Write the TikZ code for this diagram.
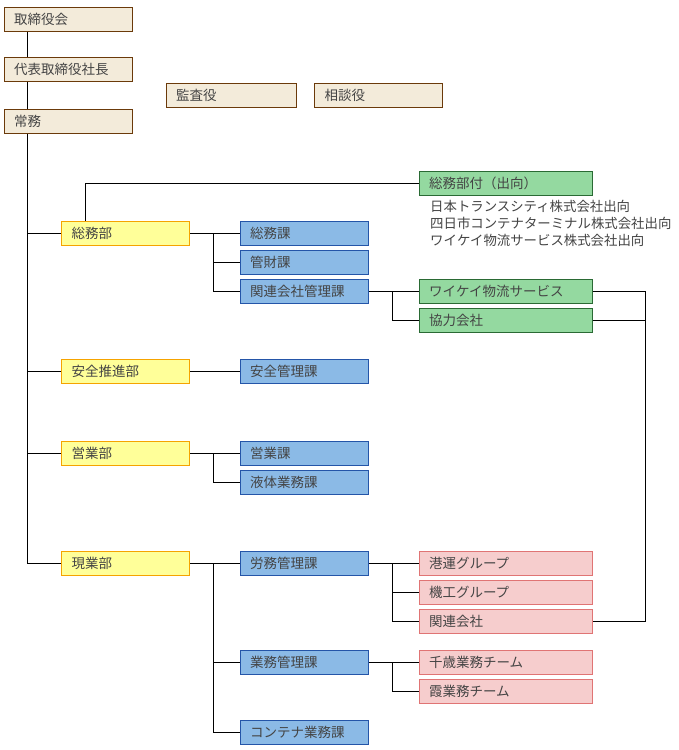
\documentclass[tikz,border=0pt]{standalone}
\usepackage{fontspec}
\setmainfont{Noto Sans CJK JP}
\definecolor{txt}{HTML}{444444}
\definecolor{bgfill}{HTML}{F3EBDA}
\definecolor{bgline}{HTML}{6B3A0A}
\definecolor{yfill}{HTML}{FFFF99}
\definecolor{yline}{HTML}{F5A300}
\definecolor{bfill}{HTML}{8BBAE6}
\definecolor{bline}{HTML}{2455A8}
\definecolor{gfill}{HTML}{94D9A0}
\definecolor{gline}{HTML}{2A6A34}
\definecolor{pfill}{HTML}{F6CDCD}
\definecolor{pline}{HTML}{E07474}
\tikzset{
  box/.style={rectangle, draw, line width=1pt, minimum height=24pt, inner ysep=0pt, inner xsep=10pt,
    align=left, text=txt, font=\fontsize{13.5}{15}\selectfont},
  narrow/.style={box, text width=108pt},
  wide/.style={box, text width=153pt},
  beige/.style={narrow, fill=bgfill, draw=bgline},
  yel/.style={narrow, fill=yfill, draw=yline},
  blu/.style={narrow, fill=bfill, draw=bline},
  grn/.style={wide, fill=gfill, draw=gline},
  pnk/.style={wide, fill=pfill, draw=pline},
  conn/.style={draw=black, line width=1pt}
}
\begin{document}
\begin{tikzpicture}[x=1pt,y=-1pt]
\fill[white] (0,0) rectangle (678,750);
\useasboundingbox (0,0) rectangle (678,750);
\coordinate (spine) at (27,0);
\coordinate (bA) at (213,0);
\coordinate (bB) at (392,0);
\coordinate (rc) at (645,0);
% top
\node[beige] (tori) at (68,19) {取締役会};
\node[beige] (daihyo) at (68,69) {代表取締役社長};
\node[beige] (jomu) at (68,121) {常務};
\node[beige, text width=110pt] (kansa) at (231,95) {監査役};
\node[beige] (sodan) at (378.5,95) {相談役};
% departments
\node[yel] (soumubu) at (125.5,233) {総務部};
\node[yel] (anzenbu) at (125.5,371) {安全推進部};
\node[yel] (eigyobu) at (125.5,453) {営業部};
\node[yel] (genbu) at (125.5,563) {現業部};
% sections
\node[blu] (soumuka) at (304,233) {総務課};
\node[blu] (kanzai) at (304,262) {管財課};
\node[blu] (kanrenka) at (304,291) {関連会社管理課};
\node[blu] (anzenka) at (304,371) {安全管理課};
\node[blu] (eigyoka) at (304,453) {営業課};
\node[blu] (ekitai) at (304,482) {液体業務課};
\node[blu] (romu) at (304,563) {労務管理課};
\node[blu] (gyomu) at (304,662) {業務管理課};
\node[blu] (container) at (304,732) {コンテナ業務課};
% green
\node[grn] (shukko) at (505.5,183) {総務部付（出向）};
\node[anchor=north west, inner sep=0pt, align=left, text=txt, font=\fontsize{13.4}{16.6}\selectfont] (shukkolist) at (430,200.5)
  {日本トランスシティ株式会社出向\\四日市コンテナターミナル株式会社出向\\ワイケイ物流サービス株式会社出向};
\node[grn] (yk) at (505.5,291) {ワイケイ物流サービス};
\node[grn] (kyoryoku) at (505.5,320) {協力会社};
% pink
\node[pnk] (koun) at (505.5,563) {港運グループ};
\node[pnk] (kiko) at (505.5,592) {機工グループ};
\node[pnk] (kanrengaisha) at (505.5,621) {関連会社};
\node[pnk] (chitose) at (505.5,662) {千歳業務チーム};
\node[pnk] (kasumi) at (505.5,691) {霞業務チーム};
% connectors: spine
\draw[conn] (tori.south -| spine) -- (daihyo.north -| spine);
\draw[conn] (daihyo.south -| spine) -- (jomu.north -| spine);
\draw[conn] (jomu.south -| spine) |- (genbu.west);
\draw[conn] (spine |- soumubu.west) -- (soumubu.west);
\draw[conn] (spine |- anzenbu.west) -- (anzenbu.west);
\draw[conn] (spine |- eigyobu.west) -- (eigyobu.west);
% 総務部
\draw[conn] ([xshift=24pt]soumubu.north west) |- (shukko.west);
\draw[conn] (soumubu.east) -- (soumuka.west);
\draw[conn] (bA |- soumuka.west) |- (kanzai.west);
\draw[conn] (bA |- soumuka.west) |- (kanrenka.west);
\draw[conn] (kanrenka.east) -- (yk.west);
\draw[conn] (bB |- yk.west) |- (kyoryoku.west);
\draw[conn] (yk.east) -| (rc |- kanrengaisha.east) -- (kanrengaisha.east);
\draw[conn] (kyoryoku.east) -- (rc |- kyoryoku.east);
% 安全
\draw[conn] (anzenbu.east) -- (anzenka.west);
% 営業
\draw[conn] (eigyobu.east) -- (eigyoka.west);
\draw[conn] (bA |- eigyoka.west) |- (ekitai.west);
% 現業
\draw[conn] (genbu.east) -- (romu.west);
\draw[conn] (bA |- romu.west) |- (gyomu.west);
\draw[conn] (bA |- romu.west) |- (container.west);
\draw[conn] (romu.east) -- (koun.west);
\draw[conn] (bB |- koun.west) |- (kiko.west);
\draw[conn] (bB |- koun.west) |- (kanrengaisha.west);
\draw[conn] (gyomu.east) -- (chitose.west);
\draw[conn] (bB |- chitose.west) |- (kasumi.west);
\end{tikzpicture}
\end{document}
